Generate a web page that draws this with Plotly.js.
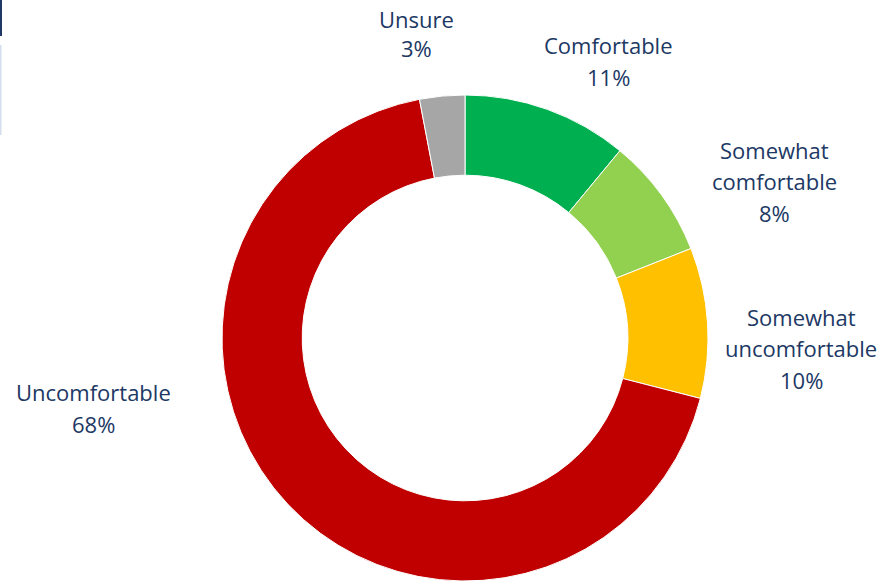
<!DOCTYPE html>
<html>
<head>
<meta charset="utf-8">
<script src="https://cdn.plot.ly/plotly-3.0.1.min.js"></script>
<style>
  html, body { margin: 0; padding: 0; background: #ffffff; }
  #chart { width: 885px; height: 582px; }
</style>
</head>
<body>
<div id="chart"></div>
<script>
// Data
const categories = ["Comfortable", "Somewhat comfortable", "Somewhat uncomfortable", "Uncomfortable", "Unsure"];
const values = [11, 8, 10, 68, 3];
const sliceColors = ["#00B050", "#92D050", "#FFC000", "#C00000", "#A6A6A6"];

// Label placement (pixels from top-left, layout only)
const labelX = [608, 774, 801, 93, 416];
const labelTopY = [45.5, 149.5, 316.5, 391.5, 19.5];
const lineGap = [32, 31.5, 31.5, 32, 28.5];

const W = 885, H = 582;
const cx = 465, cy = 338, R = 243;

const textColor = "#203864";
const fontFamily = "'Open Sans', 'Noto Sans', sans-serif";

const annotations = [];
categories.forEach((c, i) => {
  const lines = c.split(" ").concat([values[i] + "%"]);
  lines.forEach((t, k) => {
    annotations.push({
      text: t,
      x: labelX[i] / W,
      y: 1 - (labelTopY[i] + k * lineGap[i]) / H,
      xref: "paper", yref: "paper",
      xanchor: "center", yanchor: "middle",
      showarrow: false,
      align: "center",
      font: { family: fontFamily, size: 22, color: textColor }
    });
  });
});

const trace = {
  type: "pie",
  labels: categories,
  values: values,
  sort: false,
  direction: "clockwise",
  rotation: 0,
  hole: 0.67,
  textinfo: "none",
  hoverinfo: "label+percent",
  marker: { colors: sliceColors, line: { color: "#ffffff", width: 1 } },
  domain: {
    x: [(cx - R) / W, (cx + R) / W],
    y: [(H - cy - R) / H, (H - cy + R) / H]
  },
  showlegend: false
};

const layout = {
  width: W, height: H,
  margin: { l: 0, r: 0, t: 0, b: 0 },
  paper_bgcolor: "#ffffff",
  plot_bgcolor: "#ffffff",
  showlegend: false,
  annotations: annotations,
  shapes: [
    { type: "rect", xref: "paper", yref: "paper", x0: 0, x1: 2 / W, y0: 1 - 36 / H, y1: 1, fillcolor: "#1F3864", line: { width: 0 } },
    { type: "rect", xref: "paper", yref: "paper", x0: 0, x1: 1.5 / W, y0: 1 - 135 / H, y1: 1 - 45 / H, fillcolor: "#D6DEEE", line: { width: 0 } }
  ]
};

Plotly.newPlot("chart", [trace], layout, { displayModeBar: false, staticPlot: true });
</script>
</body>
</html>
